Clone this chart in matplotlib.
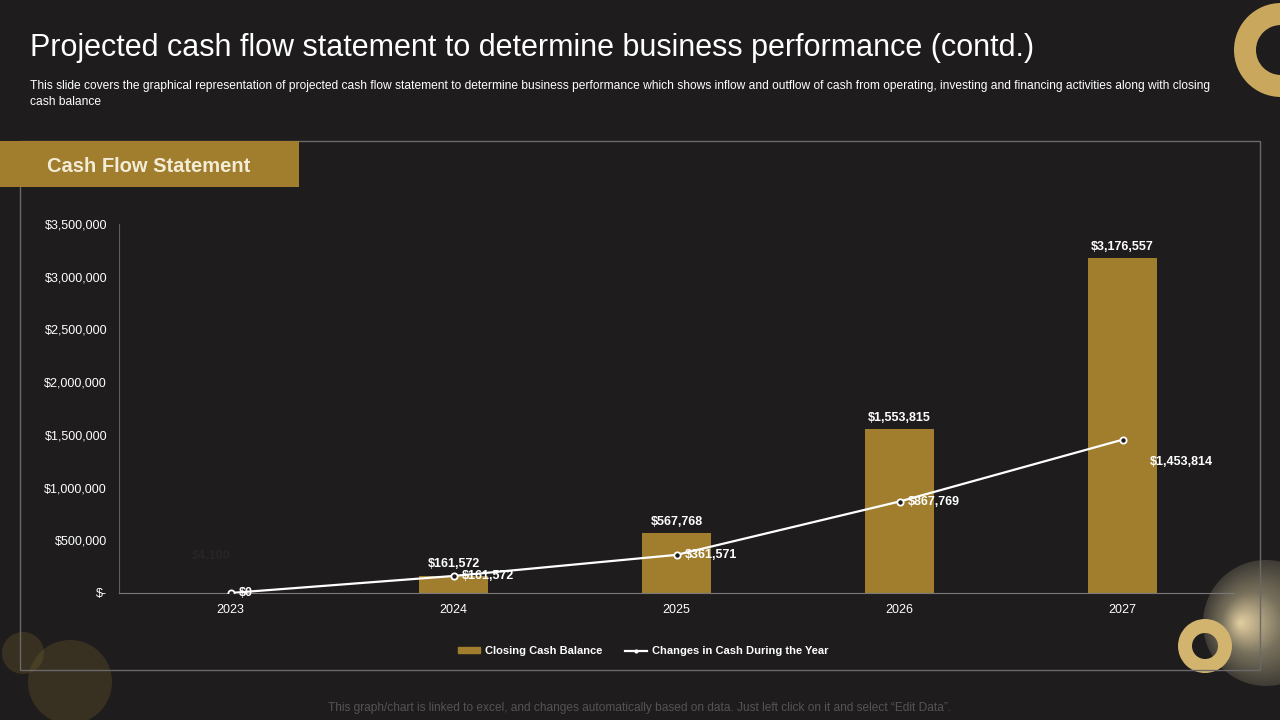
import matplotlib.pyplot as plt
from matplotlib.patches import Rectangle, Circle, Wedge
from matplotlib.ticker import FuncFormatter
from matplotlib.lines import Line2D

years = ["2023", "2024", "2025", "2026", "2027"]
closing_balance = [4100, 161572, 567768, 1553815, 3176557]
cash_change = [0, 161572, 361571, 867769, 1453814]
balance_labels = ["$4,100", "$161,572", "$567,768", "$1,553,815", "$3,176,557"]
change_labels = ["$0", "$161,572", "$361,571", "$867,769", "$1,453,814"]

BG = "#1e1c1d"
GOLD = "#a07e2e"
plt.rcParams["font.family"] = ["Liberation Sans", "DejaVu Sans"]

W, H = 1280, 720
fig = plt.figure(figsize=(12.8, 7.2), dpi=100, facecolor=BG)

# background layer in pixel coords
bg = fig.add_axes([0, 0, 1, 1])
bg.set_xlim(0, W)
bg.set_ylim(H, 0)
bg.axis("off")
bg.set_facecolor(BG)


def mix(c1, c2, t):
    return tuple(a + (b - a) * t for a, b in zip(c1, c2))


# decorations
bg.add_patch(Circle((23, 653), 21, color="#6b5a2c", alpha=0.35, lw=0))
bg.add_patch(Circle((70, 682), 42, color="#6b5a2c", alpha=0.35, lw=0))

# glowing sphere bottom right
edge = (0.25, 0.235, 0.21)
mid = (0.47, 0.44, 0.36)
hot = (0.90, 0.82, 0.64)
N = 40
for k in range(N):
    t = k / N
    col = mix(edge, mid, t / 0.5) if t < 0.5 else mix(mid, hot, (t - 0.5) / 0.5)
    bg.add_patch(Circle((1266 - 26 * t, 623), 63 * (1 - t), color=col, lw=0))
bg.add_patch(Wedge((1205, 646), 27, 0, 360, width=14, color="#d2b46e", lw=0))
bg.add_patch(Wedge((1281, 50), 47, 0, 360, width=22, color="#c9a85e", lw=0))

# outer frame and header band
bg.add_patch(Rectangle((20, 141), 1240, 529, fill=False, ec="#6a6868", lw=1))
bg.add_patch(Rectangle((0, 141), 299, 46, color=GOLD, lw=0))
bg.text(149, 166, "Cash Flow Statement", color="#f3ecd6", fontsize=14.5,
        fontweight="bold", ha="center", va="center")

bg.text(30, 48, "Projected cash flow statement to determine business performance (contd.)",
        color="white", fontsize=22, ha="left", va="center")
bg.text(30, 94, "This slide covers the graphical representation of projected cash flow statement to determine "
        "business performance which shows inflow and outflow of cash from operating, investing and financing "
        "activities along with closing\ncash balance",
        color="white", fontsize=8.65, ha="left", va="center", linespacing=1.4)
bg.text(640, 708, "This graph/chart is linked to excel, and changes automatically based on data. "
        "Just left click on it and select \u201cEdit Data\u201d.",
        color="#555354", fontsize=8.6, ha="center", va="center")

# chart axes: x 119..1234, y 224..593
ax = fig.add_axes([119 / W, 1 - 593 / H, (1234 - 119) / W, (593 - 224) / H])
ax.set_facecolor("none")
x = list(range(len(years)))
ax.bar(x, closing_balance, width=0.31, color=GOLD, zorder=2)
ax.plot(x, cash_change, color="white", lw=1.6, marker="o", markersize=4.5,
        markerfacecolor=BG, markeredgecolor="white", markeredgewidth=1.3, zorder=3)

ax.set_xlim(-0.5, 4.5)
ax.set_ylim(0, 3500000)
ax.set_xticks(x)
ax.set_xticklabels(years)
ax.set_yticks(range(0, 3500001, 500000))
ax.yaxis.set_major_formatter(FuncFormatter(lambda v, p: "$-" if v == 0 else f"${v:,.0f}"))
ax.tick_params(colors="white", labelsize=9, length=0, pad=8)
ax.tick_params(axis="y", pad=8.6)
for s in ["top", "right"]:
    ax.spines[s].set_visible(False)
ax.spines["left"].set_color("#5e5c5c")
ax.spines["bottom"].set_color("#7a7878")

for i, (v, lab) in enumerate(zip(closing_balance, balance_labels)):
    if i == 0:
        ax.annotate(lab, (i, v), xytext=(-14, 22), textcoords="offset points", ha="center",
                    va="bottom", color="#272526", fontsize=9, fontweight="bold")
    else:
        ax.annotate(lab, (i, v), xytext=(0, 4), textcoords="offset points", ha="center",
                    va="bottom", color="white", fontsize=9, fontweight="bold")
for i, (v, lab) in enumerate(zip(cash_change, change_labels)):
    dy = -16 if i == 4 else 0
    dx = 20 if i == 4 else 6
    ax.annotate(lab, (i, v), xytext=(dx, dy), textcoords="offset points", ha="left",
                va="center", color="white", fontsize=9, fontweight="bold")

handles = [Rectangle((0, 0), 1, 1, color=GOLD),
           Line2D([0], [0], color="white", lw=1.6, marker="o", markersize=2,
                  markerfacecolor="white")]
fig.legend(handles, ["Closing Cash Balance", "Changes in Cash During the Year"],
           loc="center", bbox_to_anchor=(643 / W, 1 - 651 / H), ncol=2, frameon=False,
           labelcolor="white", prop={"size": 8, "weight": "bold"},
           handlelength=2.0, handleheight=0.4, columnspacing=2.0, handletextpad=0.45)

fig.savefig("out.png", dpi=100, facecolor=BG)
